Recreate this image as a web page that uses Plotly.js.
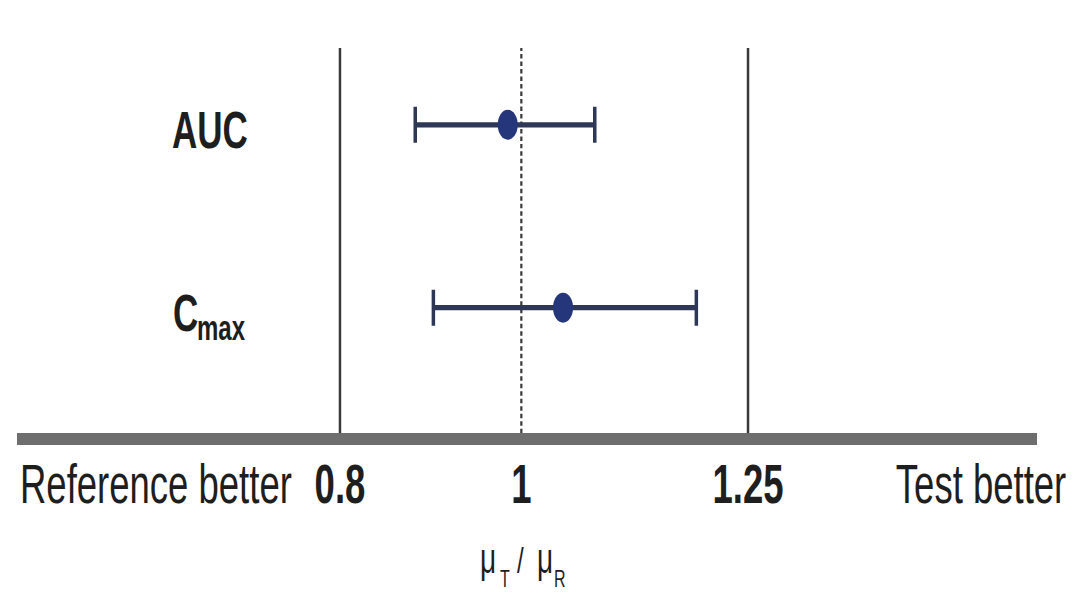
<!DOCTYPE html>
<html>
<head>
<meta charset="utf-8">
<script src="https://cdn.plot.ly/plotly-3.0.1.min.js"></script>
<style>
  html, body { margin: 0; padding: 0; background: #ffffff; width: 1075px; height: 592px; }
  #chart { width: 1075px; height: 592px; }
</style>
</head>
<body>
<div id="chart"></div>
<script>
// Pharmacokinetic parameters (rows, top to bottom): name and subscript
const categories = ['AUC', 'C'];
const categorySubs = ['', 'max'];
const rowPos = [2, 1];
// Point estimate of the ratio μT/μR and its confidence interval
const ratio = [0.985, 1.046];
const ciLower = [0.883, 0.903];
const ciUpper = [1.081, 1.193];
// Equivalence limits and reference line
const limits = [0.8, 1.25];
const unity = 1;
// x-axis tick labels
const tickVals = [0.597, 0.8, 1, 1.25, 1.507];
const tickText = ['Reference better', '<b>0.8</b>', '<b>1</b>', '<b>1.25</b>', 'Test better'];
// x-axis title μT / μR, written as base letters and subscripts
const titleParts = ['μ', 'T', '/', 'μ', 'R'];
// position of the row labels along x
const rowLabelX = 0.6566;

const FONT = '"Liberation Sans", Arial, Helvetica, sans-serif';
const W = 1075, H = 592, BASE_H = 395;   // drawn at BASE_H, stretched vertically to H
const K = H / BASE_H;
const INK = '#1e1e1e';

const trace = {
  type: 'scatter',
  mode: 'markers',
  x: ratio,
  y: rowPos,
  marker: { color: '#26367a', size: 20 },
  error_x: {
    type: 'data',
    symmetric: false,
    array: ratio.map((v, i) => ciUpper[i] - v),
    arrayminus: ratio.map((v, i) => v - ciLower[i]),
    color: '#2e3856',
    thickness: 3.5,
    width: 12
  },
  hoverinfo: 'skip',
  showlegend: false
};

const shapes = [];
limits.forEach(v => shapes.push({
  type: 'line', xref: 'x', yref: 'paper', x0: v, x1: v, y0: 0, y1: 1,
  line: { color: '#3a3a3a', width: 2.5 }, layer: 'below'
}));
shapes.push({
  type: 'line', xref: 'x', yref: 'paper', x0: unity, x1: unity, y0: 0, y1: 1,
  line: { color: '#3a3a3a', width: 2.2, dash: '3px,2px' }, layer: 'below'
});

const annotations = [];
categories.forEach((c, i) => {
  const hasSub = categorySubs[i] !== '';
  annotations.push({
    x: rowLabelX, y: rowPos[i], xref: 'x', yref: 'y',
    text: '<b>' + c + '</b>', showarrow: false,
    xanchor: hasSub ? 'left' : 'center', yanchor: 'middle',
    xshift: hasSub ? -39 : 0, yshift: -3.5,
    font: { family: FONT, size: 35, color: INK }
  });
  if (hasSub) {
    annotations.push({
      x: rowLabelX, y: rowPos[i], xref: 'x', yref: 'y',
      text: '<b>' + categorySubs[i] + '</b>', showarrow: false,
      xanchor: 'left', yanchor: 'middle',
      xshift: -15, yshift: -13.5,
      font: { family: FONT, size: 24, color: INK }
    });
  }
});

// axis title pieces placed under x = 1
const titleStyle = [
  { xanchor: 'left',   xshift: -43, y: -0.324, size: 28 },
  { xanchor: 'left',   xshift: -23, y: -0.378, size: 16 },
  { xanchor: 'center', xshift: -1,  y: -0.329, size: 24 },
  { xanchor: 'left',   xshift: 14,  y: -0.324, size: 28 },
  { xanchor: 'left',   xshift: 31,  y: -0.378, size: 16 }
];
titleParts.forEach((t, i) => {
  const s = titleStyle[i];
  annotations.push({
    x: unity, y: s.y, xref: 'x', yref: 'paper',
    text: t, showarrow: false,
    xanchor: s.xanchor, yanchor: 'middle', xshift: s.xshift,
    font: { family: FONT, size: s.size, color: INK }
  });
});

const layout = {
  width: W,
  height: BASE_H,
  margin: { l: 17, r: 38, t: 32, b: 106 },
  paper_bgcolor: '#ffffff',
  plot_bgcolor: '#ffffff',
  font: { family: FONT, color: INK },
  xaxis: {
    range: [0.4438, 1.5687],
    showgrid: false,
    zeroline: false,
    showline: true,
    linecolor: '#6e6e6e',
    linewidth: 8,
    ticks: '',
    tickmode: 'array',
    tickvals: tickVals,
    ticktext: tickText,
    tickfont: { family: FONT, size: 36.5, color: INK },
    ticklabelstandoff: -5,
    fixedrange: true
  },
  yaxis: {
    range: [0.314, 2.42],
    visible: false,
    fixedrange: true
  },
  shapes: shapes,
  annotations: annotations
};

const gd = document.getElementById('chart');
Plotly.newPlot(gd, [trace], layout, { displayModeBar: false, staticPlot: true }).then(() => {
  // stretch the drawing vertically inside full-height svgs
  gd.querySelectorAll('.svg-container').forEach(c => { c.style.height = H + 'px'; });
  gd.querySelectorAll('svg.main-svg').forEach(svg => {
    svg.setAttribute('height', H);
    svg.style.height = H + 'px';
    const g = document.createElementNS('http://www.w3.org/2000/svg', 'g');
    g.setAttribute('transform', 'scale(1,' + K + ')');
    Array.from(svg.childNodes).forEach(ch => { if (ch.nodeName !== 'defs') g.appendChild(ch); });
    svg.appendChild(g);
  });
});
</script>
</body>
</html>
